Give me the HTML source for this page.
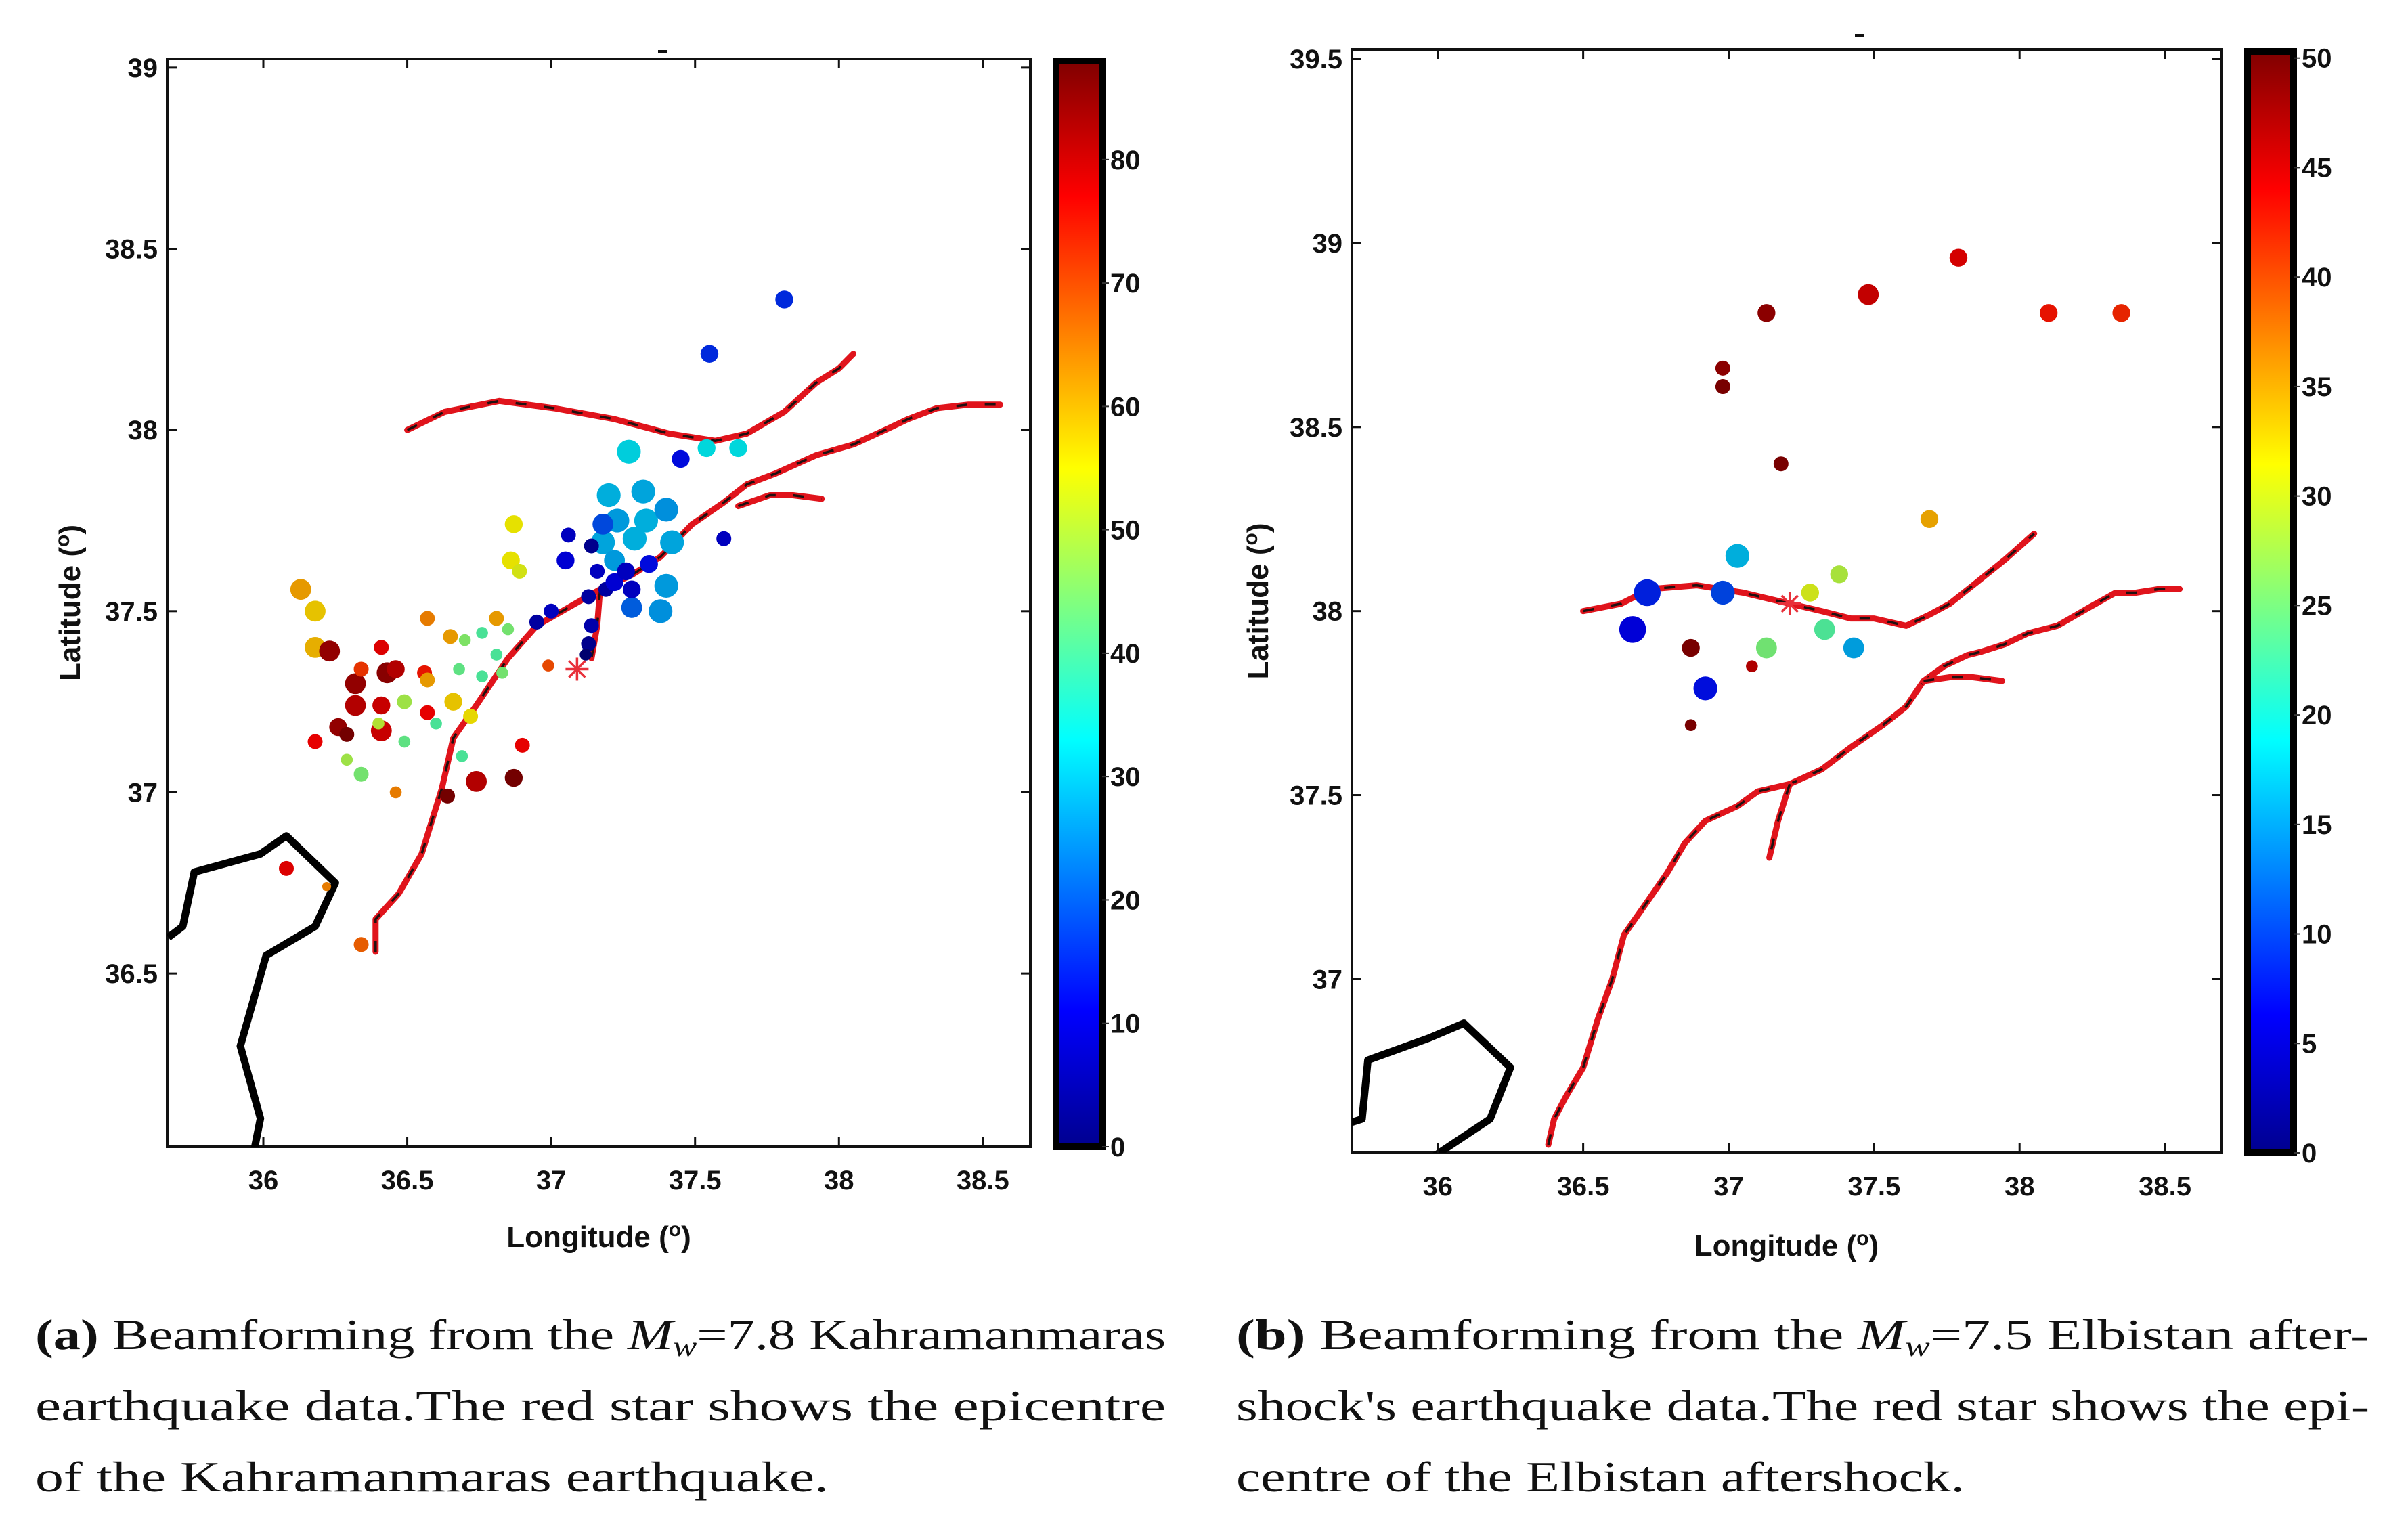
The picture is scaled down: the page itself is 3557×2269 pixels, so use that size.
<!DOCTYPE html>
<html><head><meta charset="utf-8">
<style>
html,body{margin:0;padding:0;background:#fff;}
svg{display:block;}
.tk{font-family:"Liberation Sans",sans-serif;font-size:40px;font-weight:bold;fill:#111;}
.ttl{font-family:"Liberation Sans",sans-serif;font-size:44px;font-weight:bold;fill:#111;}
.cap{font-family:"Liberation Serif",serif;font-size:64px;fill:#111;}
</style></head>
<body>
<svg id="fig" width="3557" height="2269" viewBox="0 0 3557 2269" xmlns="http://www.w3.org/2000/svg">
<defs>
<linearGradient id="jet" x1="0" y1="1" x2="0" y2="0">
<stop offset="0" stop-color="#00008f"/><stop offset="0.125" stop-color="#0000ff"/><stop offset="0.375" stop-color="#00ffff"/><stop offset="0.625" stop-color="#ffff00"/><stop offset="0.875" stop-color="#ff0000"/><stop offset="1" stop-color="#800000"/>
</linearGradient>
</defs>
<line x1="972" y1="76" x2="986" y2="76" stroke="#111" stroke-width="4"/>
<line x1="2740" y1="52" x2="2754" y2="52" stroke="#111" stroke-width="4"/>
<g id="panelA"></g>
<g id="panelB"></g>
<g>
<text class="cap" x="52" y="1993" textLength="1670" lengthAdjust="spacingAndGlyphs"><tspan font-weight="bold">(a)</tspan> Beamforming from the <tspan font-style="italic">M</tspan><tspan font-style="italic" font-size="42" dy="10">w</tspan><tspan dy="-10">=7.8 Kahramanmaras</tspan></text>
<text class="cap" x="52" y="2098" textLength="1670" lengthAdjust="spacingAndGlyphs">earthquake data.The red star shows the epicentre</text>
<text class="cap" x="52" y="2203" textLength="1172" lengthAdjust="spacingAndGlyphs">of the Kahramanmaras earthquake.</text>
</g>
<g>
<text class="cap" x="1826" y="1993" textLength="1674" lengthAdjust="spacingAndGlyphs"><tspan font-weight="bold">(b)</tspan> Beamforming from the <tspan font-style="italic">M</tspan><tspan font-style="italic" font-size="42" dy="10">w</tspan><tspan dy="-10">=7.5 Elbistan after-</tspan></text>
<text class="cap" x="1826" y="2098" textLength="1674" lengthAdjust="spacingAndGlyphs">shock's earthquake data.The red star shows the epi-</text>
<text class="cap" x="1826" y="2203" textLength="1076" lengthAdjust="spacingAndGlyphs">centre of the Elbistan aftershock.</text>
</g>
</svg>
<script>
// ---------- Panel A data ----------
const lonA = [37.81,37.55,37.45,37.54,37.65,37.27,37.20,37.32,37.23,37.33,37.40,37.18,37.29,37.42,37.22,37.40,37.38,37.28,37.18,
37.60,37.06,37.05,37.14,37.16,37.19,37.13,37.22,37.26,37.34,37.28,37.00,36.95,37.13,37.14,37.12,
36.87,36.86,36.89,36.13,36.18,36.18,
36.23,36.32,36.32,36.43,36.41,36.46,36.26,36.29,36.41,
36.34,36.41,36.18,36.57,36.90,36.99,36.74,36.87,36.64,36.56,36.34,36.08,36.22,
36.57,36.65,36.81,36.57,36.66,36.72,36.46,
36.70,36.76,36.85,36.68,36.76,36.81,36.83,36.49,36.40,36.29,36.34,36.49,36.69,36.60];
const latA = [38.36,38.21,37.92,37.95,37.95,37.94,37.82,37.83,37.75,37.75,37.78,37.69,37.70,37.69,37.64,37.57,37.50,37.51,37.74,
37.70,37.71,37.64,37.68,37.61,37.56,37.54,37.58,37.61,37.63,37.56,37.50,37.47,37.41,37.46,37.38,
37.74,37.64,37.61,37.56,37.50,37.40,
37.39,37.30,37.24,37.33,37.24,37.34,37.18,37.16,37.17,
37.34,37.40,37.14,37.22,37.13,37.35,37.03,37.04,36.99,37.33,36.58,36.79,36.74,
37.48,37.43,37.48,37.31,37.25,37.21,37.00,
37.42,37.44,37.45,37.34,37.32,37.38,37.33,37.25,37.19,37.09,37.05,37.14,37.10,37.19];
const valA = [15,15,12,32,32,31,28,27,26,28,25,27,28,27,26,26,25,20,18,
8,8,10,3,8,5,5,10,8,12,8,8,5,3,6,0,
55,55,53,62,58,60,
85,85,82,86,80,82,85,88,80,
72,78,77,77,77,70,82,88,88,75,68,78,65,
65,62,62,62,58,56,65,
45,40,44,42,40,40,44,48,50,48,44,42,40,40];
const sizeA = [6,6,6,6,6,8,8,8,8,8,8,8,8,8,7,8,8,7,7,
5,5,6,5,5,5,5,6,6,6,6,5,5,5,5,4,
6,6,5,7,7,7,
7,7,7,7,6,6,6,5,7,
5,5,5,5,5,4,7,6,5,5,5,5,3,
5,5,5,5,6,5,4,
4,4,4,4,4,4,4,5,4,4,5,4,4,4];
const cbTicksA = [0,10,20,30,40,50,60,70,80];
const xTicksA = [36,36.5,37,37.5,38,38.5];
const yTicksA = [36.5,37,37.5,38,38.5,39];
const faultA1Lon = [36.50,36.63,36.82,37.01,37.22,37.41,37.57,37.68,37.81,37.92,38.00,38.05];
const faultA1Lat = [38.00,38.05,38.08,38.06,38.03,37.99,37.97,37.99,38.05,38.13,38.17,38.21];
const faultA2Lon = [36.39,36.39,36.47,36.55,36.62,36.66,36.74,36.85,36.95,37.06,37.17,37.28,37.38,37.49,37.60,37.68,37.78,37.92,38.05,38.16,38.24,38.34,38.45,38.56];
const faultA2Lat = [36.56,36.65,36.72,36.83,37.01,37.15,37.24,37.37,37.46,37.51,37.56,37.60,37.65,37.74,37.80,37.85,37.88,37.93,37.96,38.00,38.03,38.06,38.07,38.07];
const faultA3Lon = [37.65,37.76,37.84,37.94];
const faultA3Lat = [37.79,37.82,37.82,37.81];
const faultA4Lon = [37.17,37.16,37.14];
const faultA4Lat = [37.56,37.46,37.37];
const coastALon = [35.67,35.72,35.76,35.99,36.08,36.25,36.18,36.01,35.92,35.99,35.97];
const coastALat = [36.60,36.63,36.78,36.83,36.88,36.75,36.63,36.55,36.30,36.10,36.02];
const epiA = [37.09,37.34];

// ---------- Panel B data ----------
const lonB = [37.79,37.48,37.13,38.10,38.35,36.98,36.98,37.18,37.69,37.03,37.38,37.28,36.72,36.98,36.67,37.33,36.87,37.13,37.43,37.08,36.92,36.87];
const latB = [38.96,38.86,38.81,38.81,38.81,38.66,38.61,38.40,38.25,38.15,38.10,38.05,38.05,38.05,37.95,37.95,37.90,37.90,37.90,37.85,37.79,37.69];
const valB = [45,46,49,43,42,49,50,50,35,16,28,30,8,10,6,23,50,25,15,47,7,50];
const sizeB = [6,7,6,6,6,5,5,5,6,8,6,6,9,8,9,7,6,7,7,4,8,4];
const cbTicksB = [0,5,10,15,20,25,30,35,40,45,50];
const xTicksB = [36,36.5,37,37.5,38,38.5];
const yTicksB = [37,37.5,38,38.5,39,39.5];
const faultB1Lon = [36.50,36.63,36.73,36.89,37.05,37.21,37.32,37.42,37.50,37.61,37.69,37.76,37.84,37.95,38.05];
const faultB1Lat = [38.00,38.02,38.06,38.07,38.05,38.02,38.00,37.98,37.98,37.96,37.99,38.02,38.07,38.14,38.21];
const faultB2Lon = [36.38,36.40,36.44,36.50,36.55,36.60,36.64,36.72,36.79,36.85,36.92,37.03,37.10,37.21,37.32,37.42,37.53,37.61,37.67,37.74,37.82,37.87,37.95,38.03,38.13,38.24,38.33,38.40,38.48,38.55];
const faultB2Lat = [36.55,36.62,36.68,36.76,36.89,37.00,37.12,37.21,37.29,37.37,37.43,37.47,37.51,37.53,37.57,37.63,37.69,37.74,37.81,37.85,37.88,37.89,37.91,37.94,37.96,38.01,38.05,38.05,38.06,38.06];
const faultB3Lon = [37.67,37.76,37.84,37.94];
const faultB3Lat = [37.81,37.82,37.82,37.81];
const faultB4Lon = [37.21,37.17,37.14];
const faultB4Lat = [37.53,37.43,37.33];
const coastBLon = [35.70,35.74,35.76,35.97,36.09,36.25,36.18,35.99];
const coastBLat = [36.61,36.62,36.78,36.84,36.88,36.76,36.62,36.52];
const epiB = [37.21,38.02];

const NS = 'http://www.w3.org/2000/svg';
function mk(tag, attrs, parent){ const e=document.createElementNS(NS,tag); for(const k in attrs) e.setAttribute(k,attrs[k]); parent.appendChild(e); return e; }

function jet(t){
  t=Math.max(0,Math.min(1,t));
  const f=(x)=>Math.max(0,Math.min(1,x));
  const r=f(Math.min(4*t-1.5,-4*t+4.5)), g=f(Math.min(4*t-0.5,-4*t+3.5)), b=f(Math.min(4*t+0.5,-4*t+2.5));
  return 'rgb('+Math.round(r*230)+','+Math.round(g*225)+','+Math.round(b*220)+')';
}

function drawPanel(g, cfg){
  const L=cfg.left,R=cfg.right,T=cfg.top,B=cfg.bottom;
  const xs=(v)=>L+(v-cfg.lon0)/(cfg.lon1-cfg.lon0)*(R-L);
  const ys=(v)=>B-(v-cfg.lat0)/(cfg.lat1-cfg.lat0)*(B-T);
  const fr=mk('rect',{x:L,y:T,width:R-L,height:B-T,fill:'#fff',stroke:'#111','stroke-width':4},g);
  
  
  const cid='clip'+cfg.id;
  const cp=mk('clipPath',{id:cid},g); mk('rect',{x:L,y:T,width:R-L,height:B-T},cp);
  const inner=mk('g',{'clip-path':'url(#'+cid+')'},g);
  
  
  function poly(lons,lats,name,isFault){
    const pts=lons.map((v,i)=>xs(v).toFixed(1)+','+ys(lats[i]).toFixed(1)).join(' ');
    if(isFault){
      const p=mk('polyline',{points:pts,fill:'none',stroke:'#e0141c','stroke-width':9,'stroke-linejoin':'round','stroke-linecap':'round'},inner);
      
      
      const d=mk('polyline',{points:pts,fill:'none',stroke:'#201010','stroke-width':3.5,'stroke-dasharray':'16 26'},inner);
      
      
    } else {
      const p=mk('polyline',{points:pts,fill:'none',stroke:'#000','stroke-width':11,'stroke-linejoin':'round'},inner);
      
      
    }
  }
  poly(cfg.coastLon,cfg.coastLat,'coastline',false);
  cfg.faults.forEach((f,i)=>poly(f[0],f[1],'fault-line-'+(i+1),true));
  cfg.lon.forEach((v,i)=>{
    const c=mk('circle',{cx:xs(v),cy:ys(cfg.lat[i]),r:cfg.size[i]*2.2,fill:jet(cfg.val[i]/cfg.vmax)},inner);
    
    
  });
  const ex=xs(cfg.epi[0]),ey=ys(cfg.epi[1]);
  const st=mk('g',{stroke:'#e8303a','stroke-width':3.5},inner);
  
  
  for(let k=0;k<4;k++){const a=k*Math.PI/4;mk('line',{x1:ex-17*Math.cos(a),y1:ey-17*Math.sin(a),x2:ex+17*Math.cos(a),y2:ey+17*Math.sin(a)},st);}
  cfg.xt.forEach(v=>{
    const x=xs(v);
    mk('line',{x1:x,y1:B,x2:x,y2:B-14,stroke:'#111','stroke-width':3},g);
    mk('line',{x1:x,y1:T,x2:x,y2:T+14,stroke:'#111','stroke-width':3},g);
    const t=mk('text',{x:x,y:B+63,'text-anchor':'middle',class:'tk'},g);
    t.textContent=String(v);
    
    
  });
  cfg.yt.forEach(v=>{
    const y=ys(v);
    mk('line',{x1:L,y1:y,x2:L+14,y2:y,stroke:'#111','stroke-width':3},g);
    mk('line',{x1:R,y1:y,x2:R-14,y2:y,stroke:'#111','stroke-width':3},g);
    const t=mk('text',{x:L-14,y:y+14,'text-anchor':'end',class:'tk'},g);
    t.textContent=String(v);
    
    
  });
  const xt=mk('text',{x:(L+R)/2,y:cfg.xtitleY,'text-anchor':'middle',class:'ttl'},g);
  xt.innerHTML='Longitude (<tspan font-size="30" dy="-16">o</tspan><tspan dy="16">)</tspan>';
  
  
  const yt=mk('text',{x:0,y:0,'text-anchor':'middle',class:'ttl',transform:'translate('+cfg.ytitleX+','+((T+B)/2)+') rotate(-90)'},g);
  yt.innerHTML='Latitude (<tspan font-size="30" dy="-16">o</tspan><tspan dy="16">)</tspan>';
  
  
  const cb=mk('rect',{x:cfg.cbx,y:cfg.cbTop,width:68,height:cfg.cbBot-cfg.cbTop,fill:'url(#jet)',stroke:'#000','stroke-width':10},g);
  
  
  const cs=(v)=>cfg.cbBot-v/cfg.vmax*(cfg.cbBot-cfg.cbTop);
  cfg.cbt.forEach(v=>{
    const y=cs(v);
    mk('line',{x1:cfg.cbx+68,y1:y,x2:cfg.cbx+78,y2:y,stroke:'#333','stroke-width':2},g);
    const t=mk('text',{x:cfg.cbx+80,y:y+14,class:'tk'},g);
    t.textContent=String(v);
    
    
  });
}

drawPanel(document.getElementById('panelA'),{
  id:'A',left:247,right:1522,top:87,bottom:1694,lon0:35.666,lon1:38.665,lat0:36.022,lat1:39.024,
  lon:lonA,lat:latA,val:valA,size:sizeA,vmax:88,epi:epiA,
  faults:[[faultA1Lon,faultA1Lat],[faultA2Lon,faultA2Lat],[faultA3Lon,faultA3Lat],[faultA4Lon,faultA4Lat]],
  coastLon:coastALon,coastLat:coastALat,xt:xTicksA,yt:yTicksA,cbt:cbTicksA,
  cbx:1560,cbTop:90,cbBot:1694,xtitleY:1842,ytitleX:118
});
drawPanel(document.getElementById('panelB'),{
  id:'B',left:1997,right:3281,top:73,bottom:1703,lon0:35.705,lon1:38.693,lat0:36.528,lat1:39.526,
  lon:lonB,lat:latB,val:valB,size:sizeB,vmax:50.3,epi:epiB,
  faults:[[faultB1Lon,faultB1Lat],[faultB2Lon,faultB2Lat],[faultB3Lon,faultB3Lat],[faultB4Lon,faultB4Lat]],
  coastLon:coastBLon,coastLat:coastBLat,xt:xTicksB,yt:yTicksB,cbt:cbTicksB,
  cbx:3320,cbTop:76,cbBot:1703,xtitleY:1855,ytitleX:1873
});
</script>
</body></html>
